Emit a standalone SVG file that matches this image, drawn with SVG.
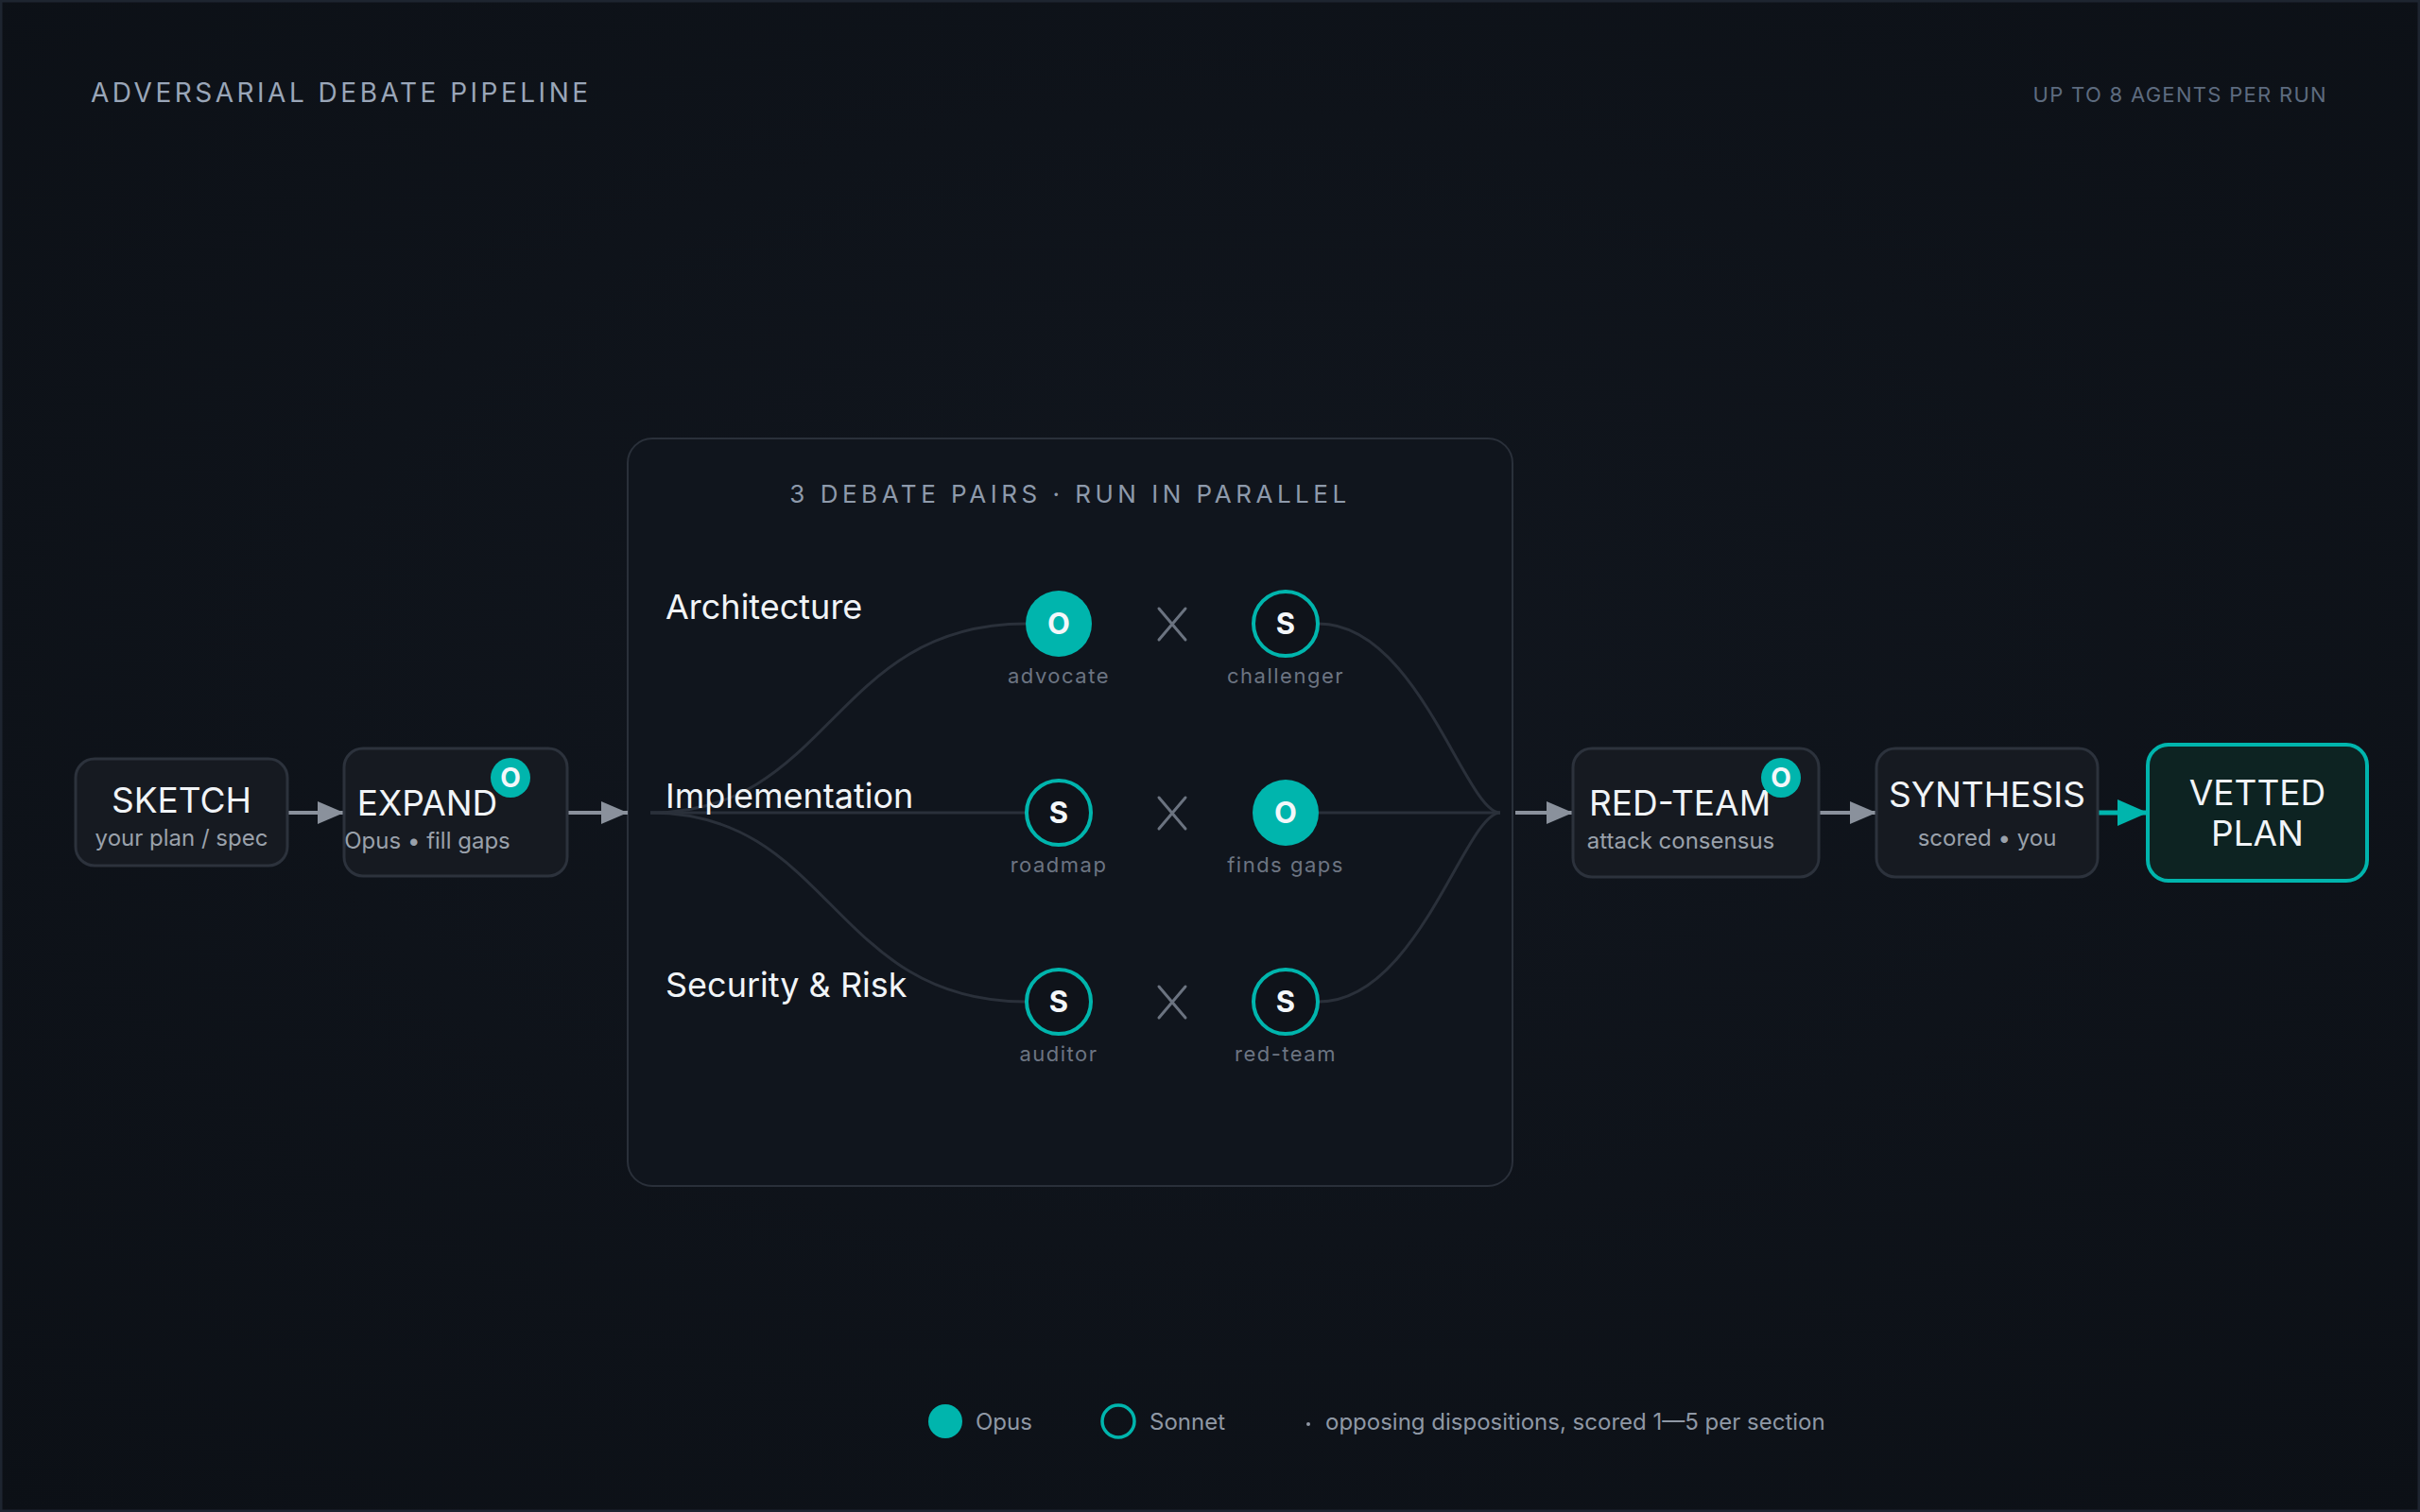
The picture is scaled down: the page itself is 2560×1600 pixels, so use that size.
<svg xmlns="http://www.w3.org/2000/svg" width="2560" height="1600" viewBox="0 0 2560 1600">
  <defs>
    <radialGradient id="bg" cx="50%" cy="45%" r="75%">
      <stop offset="0" stop-color="#11161e"/>
      <stop offset="1" stop-color="#0c1016"/>
    </radialGradient>
    <marker id="arrG" viewBox="0 0 28 24" refX="28" refY="12" markerWidth="28" markerHeight="24" markerUnits="userSpaceOnUse" orient="auto">
      <path d="M0 0 L28 12 L0 24 Z" fill="#8a919c"/>
    </marker>
    <marker id="arrT" viewBox="0 0 32 28" refX="32" refY="14" markerWidth="32" markerHeight="28" markerUnits="userSpaceOnUse" orient="auto">
      <path d="M0 0 L32 14 L0 28 Z" fill="#00b5ad"/>
    </marker>
    <style>
      text { font-family: Inter, "Noto Sans", "Liberation Sans", sans-serif; }
      .box { fill: #161a21; stroke: #2c323c; stroke-width: 3; }
      .title { font-size: 37px; fill: #f1f4f7; text-anchor: middle; }
      .sub { font-size: 24px; fill: #9aa1ab; text-anchor: middle; }
      .row { font-size: 36px; fill: #f1f4f7; }
      .role { font-size: 22px; fill: #6c7482; text-anchor: middle; letter-spacing: 1.5px; }
      .opus { fill: #00b5ad; }
      .sonnet { fill: #0f131a; stroke: #00b5ad; stroke-width: 4; }
      .glyph { font-size: 31px; font-weight: 700; fill: #f4f7fa; text-anchor: middle; }
      .badge { font-size: 28px; font-weight: 700; fill: #f4f7fa; text-anchor: middle; }
      .wire { fill: none; stroke: #2a303a; stroke-width: 3; }
      .flow { fill: none; stroke: #8a919c; stroke-width: 4; }
      .vs { stroke: #6b7380; stroke-width: 3; stroke-linecap: round; }
      .legend { font-size: 24px; fill: #8f98a5; }
    </style>
  </defs>

  <rect x="0" y="0" width="2560" height="1600" fill="url(#bg)"/>
  <rect x="1" y="1" width="2558" height="1598" fill="none" stroke="#1e2530" stroke-width="3"/>

  <text x="96" y="108" font-size="28" fill="#9aa6b8" letter-spacing="3.5">ADVERSARIAL DEBATE PIPELINE</text>
  <text x="2462" y="108" font-size="22" fill="#5d6b7f" letter-spacing="1.3" text-anchor="end">UP TO 8 AGENTS PER RUN</text>

  <!-- container -->
  <g id="debate-container">
    <rect x="664" y="464" width="936" height="791" rx="26" fill="#10151d" stroke="#2a303a" stroke-width="2"/>
    <text x="1132" y="532" font-size="26" fill="#8e9aab" letter-spacing="4.5" text-anchor="middle">3 DEBATE PAIRS · RUN IN PARALLEL</text>
  </g>

  <!-- connectors -->
  <g id="connectors">
    <path class="wire" d="M688 860 C880 860 880 660 1085 660"/>
    <path class="wire" d="M688 860 L1085 860"/>
    <path class="wire" d="M688 860 C880 860 880 1060 1085 1060"/>
    <path class="wire" d="M1395 660 C1500 660 1550 860 1587 860"/>
    <path class="wire" d="M1395 860 L1587 860"/>
    <path class="wire" d="M1395 1060 C1500 1060 1550 860 1587 860"/>
    <line class="vs" x1="1226" y1="644" x2="1254" y2="677"/>
    <line class="vs" x1="1254" y1="644" x2="1226" y2="677"/>
    <line class="vs" x1="1226" y1="844" x2="1254" y2="877"/>
    <line class="vs" x1="1254" y1="844" x2="1226" y2="877"/>
    <line class="vs" x1="1226" y1="1044" x2="1254" y2="1077"/>
    <line class="vs" x1="1254" y1="1044" x2="1226" y2="1077"/>
    <line class="flow" x1="304" y1="860" x2="364" y2="860" marker-end="url(#arrG)"/>
    <line class="flow" x1="600" y1="860" x2="664" y2="860" marker-end="url(#arrG)"/>
    <line class="flow" x1="1603" y1="860" x2="1664" y2="860" marker-end="url(#arrG)"/>
    <line class="flow" x1="1924" y1="860" x2="1985" y2="860" marker-end="url(#arrG)"/>
    <line x1="2219" y1="860" x2="2272" y2="860" stroke="#00b5ad" stroke-width="5" marker-end="url(#arrT)"/>
  </g>

  <g id="section-labels">
    <text class="row" x="704" y="655">Architecture</text>
    <text class="row" x="704" y="855">Implementation</text>
    <text class="row" x="704" y="1055">Security &amp; Risk</text>
  </g>

  <!-- agent nodes -->
  <g id="advocate">
    <circle class="opus" cx="1120" cy="660" r="35"/>
    <text class="glyph" x="1120" y="671">O</text>
    <text class="role" x="1120" y="723">advocate</text>
  </g>
  <g id="challenger">
    <circle class="sonnet" cx="1360" cy="660" r="34"/>
    <text class="glyph" x="1360" y="671">S</text>
    <text class="role" x="1360" y="723">challenger</text>
  </g>
  <g id="roadmap">
    <circle class="sonnet" cx="1120" cy="860" r="34"/>
    <text class="glyph" x="1120" y="871">S</text>
    <text class="role" x="1120" y="923">roadmap</text>
  </g>
  <g id="finds-gaps">
    <circle class="opus" cx="1360" cy="860" r="35"/>
    <text class="glyph" x="1360" y="871">O</text>
    <text class="role" x="1360" y="923">finds gaps</text>
  </g>
  <g id="auditor">
    <circle class="sonnet" cx="1120" cy="1060" r="34"/>
    <text class="glyph" x="1120" y="1071">S</text>
    <text class="role" x="1120" y="1123">auditor</text>
  </g>
  <g id="red-team-agent">
    <circle class="sonnet" cx="1360" cy="1060" r="34"/>
    <text class="glyph" x="1360" y="1071">S</text>
    <text class="role" x="1360" y="1123">red-team</text>
  </g>

  <!-- pipeline nodes -->
  <g id="sketch">
    <rect class="box" x="80" y="803" width="224" height="113" rx="20"/>
    <text class="title" x="192" y="860">SKETCH</text>
    <text class="sub" x="192" y="895">your plan / spec</text>
  </g>
  <g id="expand">
    <rect class="box" x="364" y="792" width="236" height="135" rx="20"/>
    <text class="title" x="452" y="863">EXPAND</text>
    <text class="sub" x="452" y="898">Opus • fill gaps</text>
    <circle class="opus" cx="540" cy="823" r="21"/>
    <text class="badge" x="540" y="833">O</text>
  </g>
  <g id="red-team">
    <rect class="box" x="1664" y="792" width="260" height="136" rx="20"/>
    <text class="title" x="1777" y="863">RED-TEAM</text>
    <text class="sub" x="1778" y="898">attack consensus</text>
    <circle class="opus" cx="1884" cy="823" r="21"/>
    <text class="badge" x="1884" y="833">O</text>
  </g>
  <g id="synthesis">
    <rect class="box" x="1985" y="792" width="234" height="136" rx="20"/>
    <text class="title" x="2102" y="854" font-size="36">SYNTHESIS</text>
    <text class="sub" x="2102" y="895">scored • you</text>
  </g>
  <g id="vetted-plan">
    <rect x="2272" y="788" width="232" height="144" rx="22" fill="#0d2322" stroke="#00b5ad" stroke-width="4"/>
    <text class="title" x="2388" y="852">VETTED</text>
    <text class="title" x="2388" y="895">PLAN</text>
  </g>

  <!-- legend -->
  <g id="legend">
    <circle class="opus" cx="1000" cy="1504" r="18"/>
    <text class="legend" x="1032" y="1513">Opus</text>
    <circle cx="1183" cy="1504" r="17" fill="none" stroke="#00b5ad" stroke-width="3.5"/>
    <text class="legend" x="1216" y="1513">Sonnet</text>
    <circle cx="1384" cy="1507" r="2" fill="#8f98a5"/>
    <text class="legend" x="1402" y="1513">opposing dispositions, scored 1—5 per section</text>
  </g>
</svg>
